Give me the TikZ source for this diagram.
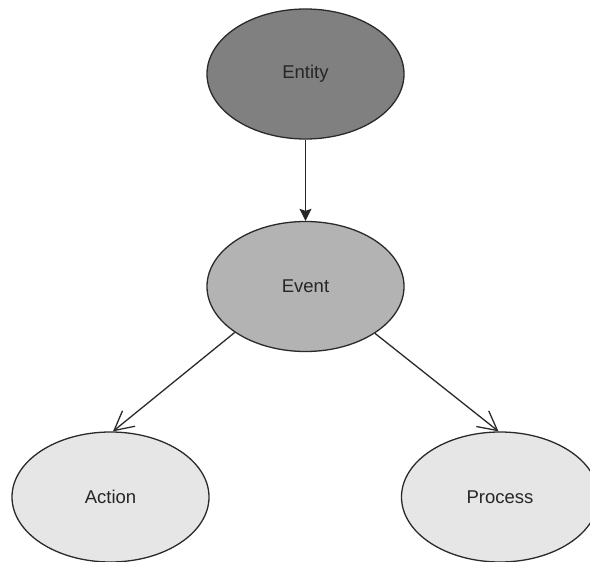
\documentclass[tikz,border=0pt]{standalone}
\usepackage{fontspec}
\setmainfont{Liberation Sans}
\usetikzlibrary{arrows.meta,shapes.geometric}
\definecolor{fillA}{HTML}{808080}
\definecolor{fillB}{HTML}{B3B3B3}
\definecolor{fillC}{HTML}{E6E6E6}
\definecolor{edgeC}{HTML}{2A2A2A}
\definecolor{textC}{HTML}{262626}
\tikzset{
  ent/.style={ellipse, draw=edgeC, line width=1.3pt, minimum width=197pt, minimum height=130pt, inner sep=0pt, text=textC, font=\fontsize{18.5}{20}\selectfont},
  solidarrow/.style={draw=black!85, line width=1.3pt, -{Stealth[length=12pt,width=12pt,inset=2pt]}},
  openarrow/.style={draw=edgeC, line width=1.3pt, -{Straight Barb[length=19pt,width=20pt]}}
}
\begin{document}
\begin{tikzpicture}[x=1pt,y=-1pt]
\clip (0,0) rectangle (590,562);
\fill[white] (0,0) rectangle (590,562);
\node[ent, fill=fillA] (en) at (305.5,74) {Entity};
\node[ent, fill=fillB] (ev) at (305.5,286.5) {Event};
\node[ent, fill=fillC] (ac) at (110.5,497) {Action};
\node[ent, fill=fillC] (pr) at (500,497) {Process};
\draw[solidarrow] (en.south) -- (ev.north);
\draw[openarrow] (ev.213) -- ([xshift=2.5pt]ac.north);
\draw[openarrow] (ev.326.6) -- ([xshift=-1.5pt]pr.north);
\end{tikzpicture}
\end{document}
